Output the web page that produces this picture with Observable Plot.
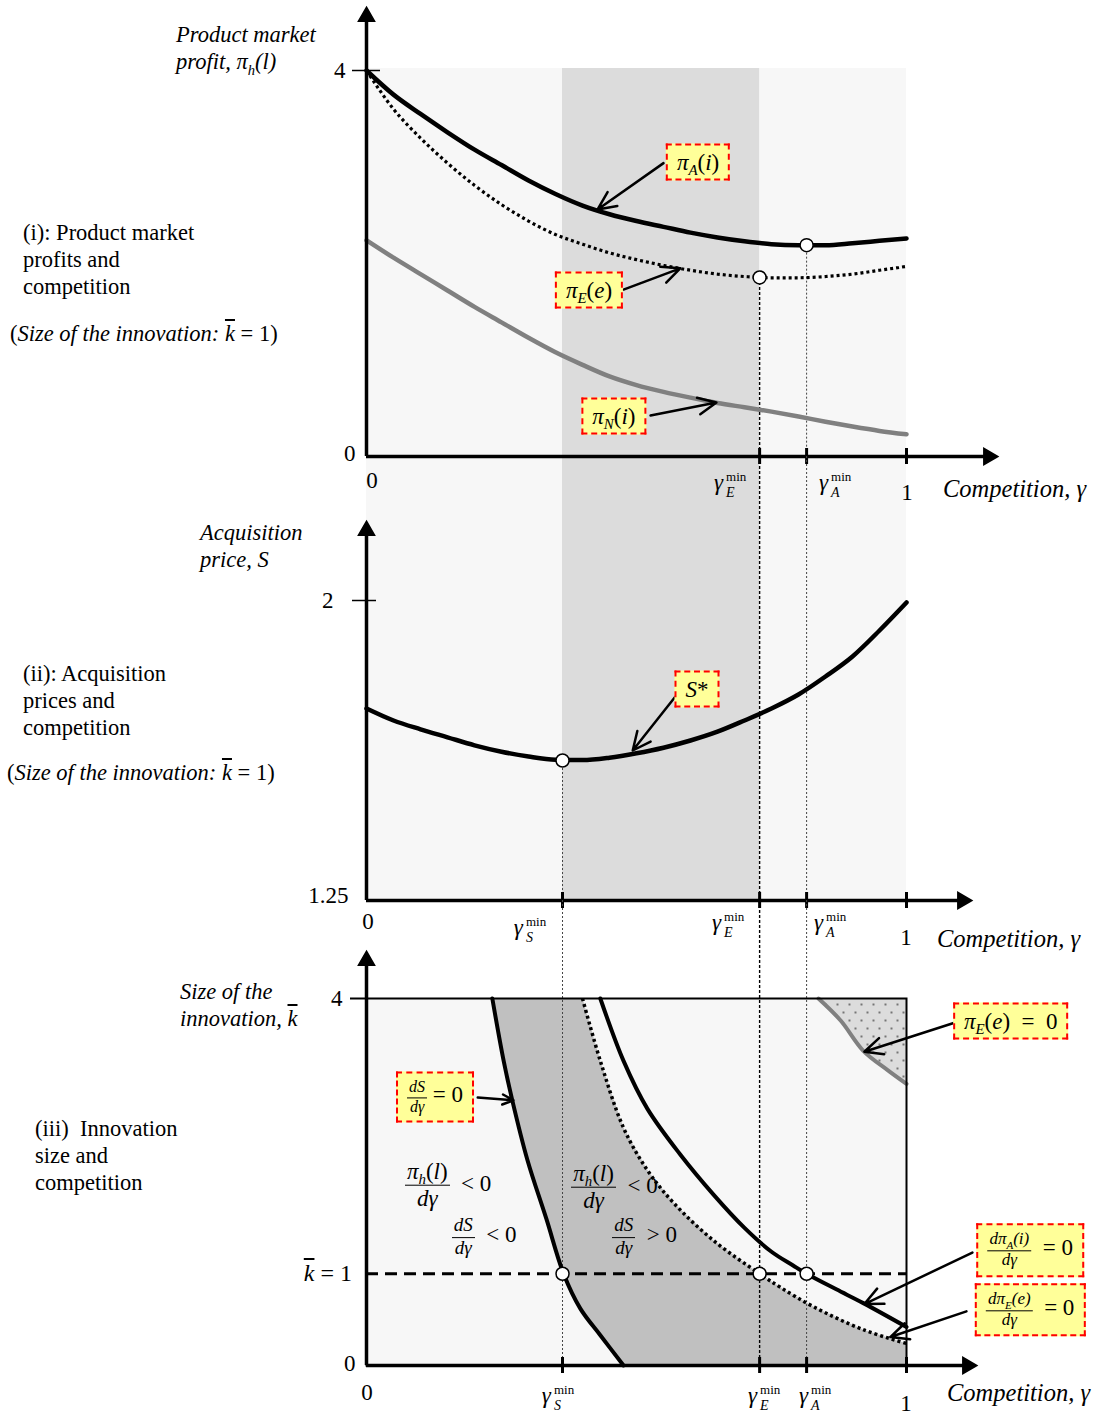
<!DOCTYPE html>
<html><head><meta charset="utf-8">
<script src="https://cdn.jsdelivr.net/npm/d3@7"></script>
<script src="https://cdn.jsdelivr.net/npm/@observablehq/plot@0.6"></script>
<style>
body{margin:0;background:#fff}
#page{position:relative;width:1099px;height:1414px;overflow:hidden;font-family:'Liberation Serif','Times New Roman',serif;color:#000}
#page > svg.pl{position:absolute;left:0;top:0}
.lbl{position:absolute;font-size:22.5px;line-height:27px;white-space:nowrap}
.it{font-style:italic}
.ov{position:absolute;white-space:nowrap;font-size:23px;line-height:1}
.box{background:#ffff99;border:2px dashed #f00;padding:5px 9px}
.frac{display:inline-flex;flex-direction:column;align-items:center;vertical-align:middle;line-height:1.1}
.frac>span:first-child{border-bottom:1.3px solid #000;padding:0 2px 1px}
.ss{display:inline-flex;flex-direction:column;vertical-align:middle;font-size:13px;line-height:16px;margin-left:3px}
.ss i{font-size:14px}
sub{font-size:0.65em;line-height:0}
.kbar{text-decoration:overline;font-style:italic}
</style></head>
<body>
<svg width="0" height="0" style="position:absolute">
 <defs>
  <pattern id="dots" width="12" height="16" patternUnits="userSpaceOnUse">
   <rect width="12" height="16" fill="#dcdcdc"></rect>
   <circle cx="3" cy="4" r="0.9" fill="#444"></circle>
   <circle cx="9" cy="12" r="0.9" fill="#444"></circle>
  </pattern>
 </defs>
</svg>
<div id="page"></div>
<script>
// ================= DATA =================
const gammaGrid = [0,0.05,0.1,0.15,0.2,0.25,0.3,0.35,0.4,0.45,0.5,0.55,0.6,0.65,0.7,0.75,0.8,0.85,0.9,0.95,1];
// Panel (i): product market profits
const profitA = [4.00,3.75,3.55,3.36,3.18,3.02,2.86,2.72,2.60,2.51,2.44,2.38,2.32,2.27,2.23,2.20,2.19,2.19,2.21,2.235,2.26];
const profitE = [4.00,3.60,3.30,3.04,2.81,2.61,2.44,2.30,2.20,2.11,2.04,1.98,1.93,1.89,1.865,1.852,1.852,1.865,1.89,1.93,1.97];
const profitN = [2.24,2.06,1.89,1.72,1.55,1.39,1.23,1.08,0.95,0.83,0.74,0.67,0.61,0.555,0.51,0.465,0.415,0.36,0.31,0.265,0.23];
// Panel (ii): acquisition price S*
const priceS = [1.73,1.70,1.678,1.658,1.638,1.622,1.61,1.602,1.601,1.607,1.618,1.632,1.65,1.672,1.70,1.73,1.765,1.81,1.86,1.925,1.995];
// Critical competition levels and minima
const gammaMinS = 0.363, gammaMinE = 0.728, gammaMinA = 0.815;
const minProfitE = 1.855, minProfitA = 2.19, minPriceS = 1.60;
const kBar = 1;
// Panel (iii): iso-curves in (gamma, k) space
const dSzeroG    = [0.233,0.254,0.270,0.298,0.333,0.365,0.396,0.433,0.476];
const dSzeroK    = [4.00, 3.32, 2.89, 2.24, 1.60, 1.00, 0.62, 0.33, 0.00];
const dPiEzeroG  = [0.400,0.433,0.476,0.520,0.569,0.643,0.728,0.767,0.828,0.920,1.000];
const dPiEzeroK  = [4.00, 3.32, 2.59, 2.13, 1.77, 1.36, 1.00, 0.85, 0.64, 0.39, 0.24];
const dPiAzeroG  = [0.433,0.476,0.520,0.581,0.643,0.700,0.750,0.790,0.815,0.870,0.920,1.000];
const dPiAzeroK  = [4.00, 3.32, 2.80, 2.30, 1.86, 1.50, 1.24, 1.09, 1.00, 0.83, 0.68, 0.42];
const piEzeroG   = [0.837,0.878,0.920,0.965,1.000];
const piEzeroK   = [4.00, 3.76, 3.43, 3.22, 3.07];
// Axis ticks
const xTicks1 = [gammaMinE, gammaMinA, 1];
const xTicks2 = [gammaMinS, gammaMinE, gammaMinA, 1];
const xTicks3 = [gammaMinS, gammaMinE, gammaMinA, 1];

// ================= LAYOUT =================
const W = 1099, H = 1414;
const X0 = 366, X1 = 906;
const P1 = {top: 70, bottom: 456, axisTop: 8, axisRight: 996};
const P2 = {top: 600, bottom: 900, axisTop: 522, axisRight: 970};
const P3 = {top: 998, bottom: 1365, axisTop: 952, axisRight: 975};
const BG = {top: 68, bottom: 901};
const FONT = "'Liberation Serif','Times New Roman',serif";

const page = document.getElementById("page");
const zip = (a, b) => a.map((g, i) => ({g, v: b[i]}));
const t1 = gammaGrid.map((g, i) => ({g, A: profitA[i], E: profitE[i], N: profitN[i]}));
const t2 = gammaGrid.map((g, i) => ({g, S: priceS[i]}));
const dS0 = zip(dSzeroG, dSzeroK), dE0 = zip(dPiEzeroG, dPiEzeroK), dA0 = zip(dPiAzeroG, dPiAzeroK), pE0 = zip(piEzeroG, piEzeroK);
const darkRegion = [...dS0, {g: 1, v: 0}, ...dE0.slice().reverse()];
const dotRegion = [...pE0, {g: 1, v: 4}];

function base(P, ydomain) {
  return {width: W, height: H, marginLeft: X0, marginRight: W - X1, marginTop: P.top, marginBottom: H - P.bottom,
    x: {domain: [0, 1]}, y: {domain: ydomain},
    className: "pl",
    style: {fontFamily: FONT, fontSize: "23px", background: "transparent", overflow: "visible", color: "black"}};
}
function axisMarks(P, ydom) {
  const sx = Plot.scale({x: {domain: [0, 1], range: [X0, X1]}});
  const sy = Plot.scale({y: {domain: ydom, range: [P.bottom, P.top]}});
  const yTop = sy.invert(P.axisTop + 8), xRight = sx.invert(P.axisRight - 8);
  const y0 = ydom[0];
  return [
    Plot.ruleX([0], {y1: y0, y2: yTop, strokeWidth: 3.5}),
    Plot.ruleY([y0], {x1: 0, x2: xRight, strokeWidth: 3.5}),
    Plot.dot([{g: 0, v: yTop}], {x: "g", y: "v", symbol: "triangle", r: 6, fill: "black", stroke: "black"}),
    Plot.dot([{g: xRight, v: y0}], {x: "g", y: "v", symbol: "triangle", rotate: 90, r: 6, fill: "black", stroke: "black"})
  ];
}
const curve = "monotone-x";
const dotted = {strokeDasharray: "3,3", strokeLinecap: "butt", strokeLinejoin: "miter"};
const fmt = (d) => String(d);
const arrow = (d) => Plot.arrow(d, {x1: "x1", y1: "y1", x2: "x2", y2: "y2", strokeWidth: 2.5, headLength: 12, headAngle: 50});
const circles = (d) => Plot.dot(d, {x: "g", y: "v", r: 6.5, fill: "white", stroke: "black", strokeWidth: 1.5});

// ---------- background bands (panels i and ii) ----------
const bg = Plot.plot({width: W, height: H, marginLeft: X0, marginRight: W - X1, marginTop: BG.top, marginBottom: H - BG.bottom,
  x: {domain: [0, 1], axis: null}, className: "pl", style: {background: "transparent"},
  marks: [
    Plot.rect([{a: 0, b: 1}], {x1: "a", x2: "b", fill: "#f7f7f7"}),
    Plot.rect([{a: gammaMinS, b: gammaMinE}], {x1: "a", x2: "b", fill: "#dcdcdc"})
  ]});
page.appendChild(bg);

// ---------- Panel (i) ----------
const y1dom = [0, 4];
const s2y = Plot.scale({y: {domain: [1.25, 2], range: [P2.bottom, P2.top]}});
const s3y = Plot.scale({y: {domain: [0, 4], range: [P3.bottom, P3.top]}});
const p1 = Plot.plot({...base(P1, y1dom), marks: [
  Plot.ruleX([gammaMinE], {y1: minProfitE, y2: 0, strokeWidth: 1.4, strokeDasharray: "3,2"}),
  Plot.ruleX([gammaMinA], {y1: minProfitA, y2: 0, strokeWidth: 1, stroke: "#444", strokeDasharray: "2,2"}),
  Plot.line(t1, {x: "g", y: "N", stroke: "#808080", strokeWidth: 4.5, curve}),
  Plot.line(t1, {x: "g", y: "E", stroke: "black", strokeWidth: 3.2, curve, ...dotted}),
  Plot.line(t1, {x: "g", y: "A", stroke: "black", strokeWidth: 4.5, curve}),
  ...axisMarks(P1, y1dom),
  Plot.axisY([4], {tickSize: 28, dx: 14, tickPadding: 7, strokeWidth: 1.5, fontSize: 23, tickFormat: fmt}),
  Plot.axisY([0], {tickSize: 0, tickPadding: 11, dy: -3, fontSize: 23, tickFormat: fmt}),
  Plot.axisX(xTicks1, {tickSize: 16, dy: -8, strokeWidth: 3, tickFormat: () => ""}),
  arrow([{x1: 0.550, y1: 3.04, x2: 0.428, y2: 2.56}, {x1: 0.476, y1: 1.73, x2: 0.581, y2: 1.95}, {x1: 0.526, y1: 0.425, x2: 0.648, y2: 0.56}]),
  circles([{g: gammaMinE, v: minProfitE}, {g: gammaMinA, v: minProfitA}])
]});
page.appendChild(p1);

// ---------- Panel (ii) ----------
const y2dom = [1.25, 2];
const y2gapTop = s2y.invert(P1.bottom);
const p2 = Plot.plot({...base(P2, y2dom), marks: [
  Plot.ruleX([gammaMinE], {y1: y2gapTop, y2: 1.25, strokeWidth: 1.4, strokeDasharray: "3,2"}),
  Plot.ruleX([gammaMinA], {y1: y2gapTop, y2: 1.25, strokeWidth: 1, stroke: "#444", strokeDasharray: "2,2"}),
  Plot.ruleX([gammaMinS], {y1: minPriceS, y2: 1.25, strokeWidth: 1, stroke: "#444", strokeDasharray: "2,2"}),
  Plot.line(t2, {x: "g", y: "S", stroke: "black", strokeWidth: 4.5, curve}),
  ...axisMarks(P2, y2dom),
  Plot.axisY([2], {tickSize: 24, dx: 10, tickPadding: 19, strokeWidth: 1.5, fontSize: 23, tickFormat: fmt}),
  Plot.axisY([1.25], {tickSize: 0, tickPadding: 18, dy: -5, fontSize: 23, tickFormat: fmt}),
  Plot.axisX(xTicks2, {tickSize: 16, dy: -8, strokeWidth: 3, tickFormat: () => ""}),
  arrow([{x1: 0.578, y1: 1.77, x2: 0.493, y2: 1.625}]),
  circles([{g: gammaMinS, v: minPriceS}])
]});
page.appendChild(p2);

// ---------- Panel (iii) ----------
const y3dom = [0, 4];
const y3gapTop = s3y.invert(P2.bottom);
const c3 = "catmull-rom";
const p3 = Plot.plot({...base(P3, y3dom), marks: [
  Plot.frame({fill: "#f7f7f7", stroke: null}),
  Plot.line(darkRegion, {x: "g", y: "v", fill: "#c0c0c0", stroke: "none", curve: "linear"}),
  Plot.line(dotRegion, {x: "g", y: "v", fill: "url(#dots)", stroke: "none", curve: "linear"}),
  Plot.ruleX([gammaMinE], {y1: y3gapTop, y2: 0, strokeWidth: 1.4, strokeDasharray: "3,2"}),
  Plot.ruleX([gammaMinS, gammaMinA], {y1: y3gapTop, y2: 0, strokeWidth: 1, stroke: "#444", strokeDasharray: "2,2"}),
  Plot.ruleY([kBar], {strokeWidth: 3, strokeDasharray: "12,7"}),
  Plot.line(pE0, {x: "g", y: "v", stroke: "#808080", strokeWidth: 4, curve: c3}),
  Plot.line(dS0, {x: "g", y: "v", stroke: "black", strokeWidth: 4, curve: c3}),
  Plot.line(dE0, {x: "g", y: "v", stroke: "black", strokeWidth: 3.5, curve: c3, ...dotted}),
  Plot.line(dA0, {x: "g", y: "v", stroke: "black", strokeWidth: 4, curve: c3}),
  Plot.frame({stroke: "black", strokeWidth: 2}),
  ...axisMarks(P3, y3dom),
  Plot.axisY([4], {tickSize: 16, tickPadding: 8, strokeWidth: 2, fontSize: 23, tickFormat: fmt}),
  Plot.axisY([0], {tickSize: 0, tickPadding: 11, dy: -2, fontSize: 23, tickFormat: fmt}),
  Plot.axisX(xTicks3, {tickSize: 16, dy: -8, strokeWidth: 3, tickFormat: () => ""}),
  arrow([
    {x1: 0.206, y1: 2.92, x2: 0.272, y2: 2.89},
    {x1: 1.096, y1: 3.75, x2: 0.922, y2: 3.42},
    {x1: 1.122, y1: 1.23, x2: 0.922, y2: 0.67},
    {x1: 1.111, y1: 0.59, x2: 0.970, y2: 0.31}
  ]),
  circles([{g: gammaMinS, v: kBar}, {g: gammaMinE, v: kBar}, {g: gammaMinA, v: kBar}])
]});
page.appendChild(p3);

// ================= HTML TEXT OVERLAYS (placed through the plots' scales) =================
function place(chart, g, v, html, {dx = 0, dy = 0, anchor = "middle", cls = "ov"} = {}) {
  const sx = chart.scale("x"), sy = chart.scale("y");
  const d = document.createElement("div");
  d.className = cls; d.innerHTML = html;
  d.style.left = (sx.apply(g) + dx) + "px";
  d.style.top = (sy.apply(v) + dy) + "px";
  const tx = anchor === "start" ? "0" : anchor === "end" ? "-100%" : "-50%";
  d.style.transform = `translate(${tx},-50%)`;
  page.appendChild(d);
  return d;
}
const gl = (s) => `<i>γ</i><span class="ss"><span>min</span><i>${s}</i></span>`;
const frac = (n, d, fs) => `<span class="frac" style="font-size:${fs}px"><span>${n}</span><span>${d}</span></span>`;
const pi = (s, a) => `<i>π</i><sub><i>${s}</i></sub>(<i>${a}</i>)`;
const comp = `<i style="font-size:24.5px">Competition, γ</i>`;

// Panel (i) x labels
place(p1, 0, 0, "0", {dx: 6, dy: 24});
place(p1, gammaMinE, 0, gl("E"), {dx: -29, dy: 29});
place(p1, gammaMinA, 0, gl("A"), {dx: 29, dy: 29});
place(p1, 1, 0, "1", {dx: 1, dy: 36});
place(p1, 1, 0, comp, {dx: 37, dy: 33, anchor: "start"});
// Panel (ii) x labels
place(p2, 0, 1.25, "0", {dx: 2, dy: 21});
place(p2, gammaMinS, 1.25, gl("S"), {dx: -32, dy: 30});
place(p2, gammaMinE, 1.25, gl("E"), {dx: -31, dy: 25});
place(p2, gammaMinA, 1.25, gl("A"), {dx: 24, dy: 25});
place(p2, 1, 1.25, "1", {dx: 0, dy: 37});
place(p2, 1, 1.25, comp, {dx: 31, dy: 39, anchor: "start"});
// Panel (iii) x labels
place(p3, 0, 0, "0", {dx: 1, dy: 27});
place(p3, gammaMinS, 0, gl("S"), {dx: -4, dy: 33});
place(p3, gammaMinE, 0, gl("E"), {dx: 5, dy: 33});
place(p3, gammaMinA, 0, gl("A"), {dx: 9, dy: 33});
place(p3, 1, 0, "1", {dx: 0, dy: 38});
place(p3, 1, 0, comp, {dx: 41, dy: 28, anchor: "start"});
place(p3, 0, kBar, `<span style="font-size:24px"><span class="kbar">k</span> = 1</span>`, {dx: -14, anchor: "end"});

// Annotation boxes
const bx = "ov box";
place(p1, 0.615, 3.05, pi("A", "i"), {cls: bx});
place(p1, 0.413, 1.72, pi("E", "e"), {cls: bx});
place(p1, 0.459, 0.415, pi("N", "i"), {cls: bx});
place(p2, 0.613, 1.778, `<i>S</i>*`, {cls: bx});
place(p3, 0.128, 2.92, frac("<i>dS</i>", "<i>dγ</i>", 16) + " = 0", {cls: bx});
place(p3, 1.194, 3.75, pi("E", "e") + " &nbsp;= &nbsp;0", {cls: bx});
place(p3, 1.230, 1.25, frac(`<i>dπ<sub>A</sub>(i)</i>`, "<i>dγ</i>", 17) + " &nbsp;= 0", {cls: bx});
place(p3, 1.230, 0.60, frac(`<i>dπ<sub>E</sub>(e)</i>`, "<i>dγ</i>", 17) + " &nbsp;= 0", {cls: bx});

// Region labels in panel (iii)
const rl = (n, fs, rel) => `<span style="font-size:23px">${frac(n, "<i>dγ</i>", fs)} &nbsp;${rel} 0</span>`;
place(p3, 0.072, 1.96, rl(`<i>π</i><sub><i>h</i></sub>(<i>l</i>)`, 23, "&lt;"), {anchor: "start"});
place(p3, 0.159, 1.395, rl("<i>dS</i>", 19, "&lt;"), {anchor: "start"});
place(p3, 0.380, 1.94, rl(`<i>π</i><sub><i>h</i></sub>(<i>l</i>)`, 23, "&lt;"), {anchor: "start"});
place(p3, 0.456, 1.395, rl("<i>dS</i>", 19, "&gt;"), {anchor: "start"});

// Left-hand titles and axis titles
const sideLabels = [
  {left: 176, top: 21, italic: true, lines: ["Product market", "profit, " + pi("h", "l")]},
  {left: 23, top: 219, lines: ["(i): Product market", "profits and", "competition"]},
  {left: 10, top: 320, lines: ["(<i>Size of the innovation:</i> <span class='kbar'>k</span> = 1)"]},
  {left: 200, top: 519, italic: true, lines: ["Acquisition", "price, <i>S</i>"]},
  {left: 23, top: 660, lines: ["(ii): Acquisition", "prices and", "competition"]},
  {left: 7, top: 759, lines: ["(<i>Size of the innovation:</i> <span class='kbar'>k</span> = 1)"]},
  {left: 180, top: 978, italic: true, lines: ["Size of the", "innovation, <span class='kbar'>k</span>"]},
  {left: 35, top: 1115, lines: ["(iii) &nbsp;Innovation", "size and", "competition"]}
];
for (const s of sideLabels) {
  const d = document.createElement("div");
  d.className = "lbl" + (s.italic ? " it" : "");
  d.style.left = s.left + "px"; d.style.top = s.top + "px";
  d.innerHTML = s.lines.join("<br>");
  page.appendChild(d);
}
</script>
</body></html>
